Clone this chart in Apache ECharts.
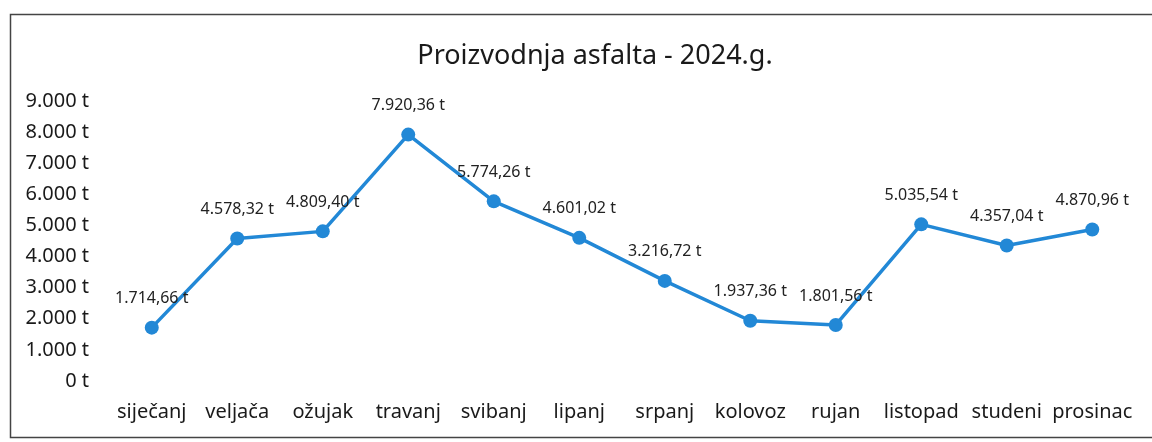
<!DOCTYPE html>
<html>
<head>
<meta charset="utf-8">
<script src="https://cdn.jsdelivr.net/npm/echarts@6/dist/echarts.min.js"></script>
<style>
  html, body { margin: 0; padding: 0; background: #fff; }
  #chart { width: 1152px; height: 442px; }
</style>
</head>
<body>
<div id="chart"></div>
<script>
  // mjeseci
  var months = ['siječanj', 'veljača', 'ožujak', 'travanj', 'svibanj', 'lipanj',
    'srpanj', 'kolovoz', 'rujan', 'listopad', 'studeni', 'prosinac']
  // proizvodnja u tonama
  var tons = [1714.66, 4578.32, 4809.40, 7920.36, 5774.26, 4601.02,
    3216.72, 1937.36, 1801.56, 5035.54, 4357.04, 4870.96]

  function fmt(v, dec) {
    var parts = v.toFixed(dec).split('.')
    var whole = parts[0].replace(/\B(?=(\d{3})+(?!\d))/g, '.')
    return parts.length > 1 ? whole + ',' + parts[1] : whole
  }

  var font = '"Noto Sans", "Open Sans", sans-serif'
  var chart = echarts.init(document.getElementById('chart'))
  chart.setOption({
    animation: false,
    textStyle: { fontFamily: font },
    title: {
      text: 'Proizvodnja asfalta - 2024.g.',
      left: 590,
      textAlign: 'center',
      top: 38,
      textStyle: { fontSize: 27, fontWeight: 'normal', color: '#1a1a1a', fontFamily: font }
    },
    graphic: [{
      type: 'rect',
      shape: { x: 10.5, y: 14.5, width: 1150, height: 423 },
      style: { fill: 'none', stroke: '#444', lineWidth: 1.5 }
    }],
    grid: { left: 109, right: 17, top: 101, bottom: 61 },
    xAxis: {
      type: 'category',
      data: months,
      boundaryGap: true,
      axisLine: { show: false },
      axisTick: { show: false },
      axisLabel: { interval: 0, margin: 21, fontSize: 20, color: '#1a1a1a', fontFamily: font }
    },
    yAxis: {
      type: 'value',
      min: 0,
      max: 9000,
      interval: 1000,
      splitLine: { show: false },
      axisLine: { show: false },
      axisTick: { show: false },
      axisLabel: {
        margin: 20, fontSize: 20, color: '#1a1a1a', fontFamily: font,
        formatter: function (v) { return fmt(v, 0) + ' t' }
      }
    },
    series: [{
      type: 'line',
      data: tons,
      symbol: 'circle',
      symbolSize: 14,
      lineStyle: { color: '#2288d6', width: 3.5 },
      itemStyle: { color: '#2288d6' },
      label: {
        show: true,
        position: 'top',
        distance: 14,
        fontSize: 16,
        color: '#222',
        fontFamily: font,
        formatter: function (p) { return fmt(p.value, 2) + ' t' }
      }
    }]
  })
</script>
</body>
</html>
